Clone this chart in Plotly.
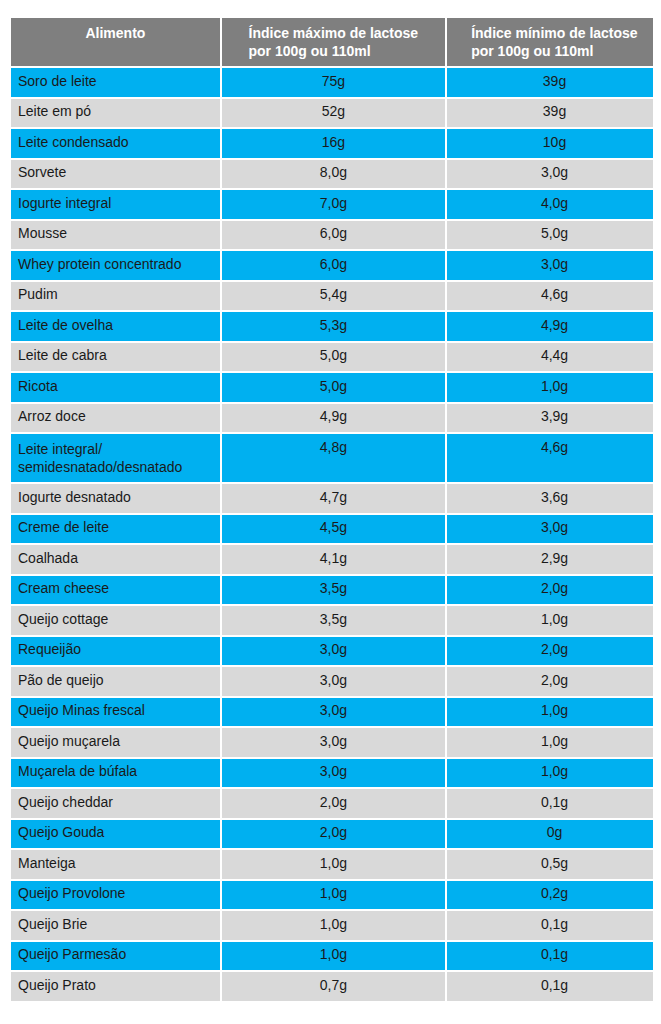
import plotly.graph_objects as go

alimentos = ["Soro de leite","Leite em pó","Leite condensado","Sorvete","Iogurte integral","Mousse",
 "Whey protein concentrado","Pudim","Leite de ovelha","Leite de cabra","Ricota","Arroz doce",
 "Leite integral/<br>semidesnatado/desnatado","Iogurte desnatado","Creme de leite","Coalhada",
 "Cream cheese","Queijo cottage","Requeijão","Pão de queijo","Queijo Minas frescal","Queijo muçarela",
 "Muçarela de búfala","Queijo cheddar","Queijo Gouda","Manteiga","Queijo Provolone","Queijo Brie",
 "Queijo Parmesão","Queijo Prato"]
maximo = ["75g","52g","16g","8,0g","7,0g","6,0g","6,0g","5,4g","5,3g","5,0g","5,0g","4,9g","4,8g","4,7g",
 "4,5g","4,1g","3,5g","3,5g","3,0g","3,0g","3,0g","3,0g","3,0g","2,0g","2,0g","1,0g","1,0g","1,0g","1,0g","0,7g"]
minimo = ["39g","39g","10g","3,0g","4,0g","5,0g","3,0g","4,6g","4,9g","4,4g","1,0g","3,9g","4,6g","3,6g",
 "3,0g","2,9g","2,0g","1,0g","2,0g","2,0g","1,0g","1,0g","1,0g","0,1g","0g","0,5g","0,2g","0,1g","0,1g","0,1g"]
headers = ["Alimento","Índice máximo de lactose<br>por 100g ou 110ml","Índice mínimo de lactose<br>por 100g ou 110ml"]

fills = ["#00b0f0" if i % 2 == 0 else "#d9d9d9" for i in range(len(alimentos))]

fig = go.Figure(go.Table(
    columnwidth=[206, 220, 212],
    header=dict(values=[f"<b>{h}</b>" for h in headers], fill_color="#7f7f7f",
                font=dict(color="white", size=14, family="Liberation Sans"),
                align="center", height=44, line=dict(color="white", width=2)),
    cells=dict(values=[alimentos, maximo, minimo], fill_color=[fills]*3,
               font=dict(color="#1a1a1a", size=14, family="Liberation Sans"),
               align=["left","center","center"], height=30.5,
               line=dict(color="white", width=2)),
))
fig.update_layout(width=661, height=1024, margin=dict(l=2, r=6, t=9, b=5),
                  paper_bgcolor="white")
fig.write_html("out.html")
